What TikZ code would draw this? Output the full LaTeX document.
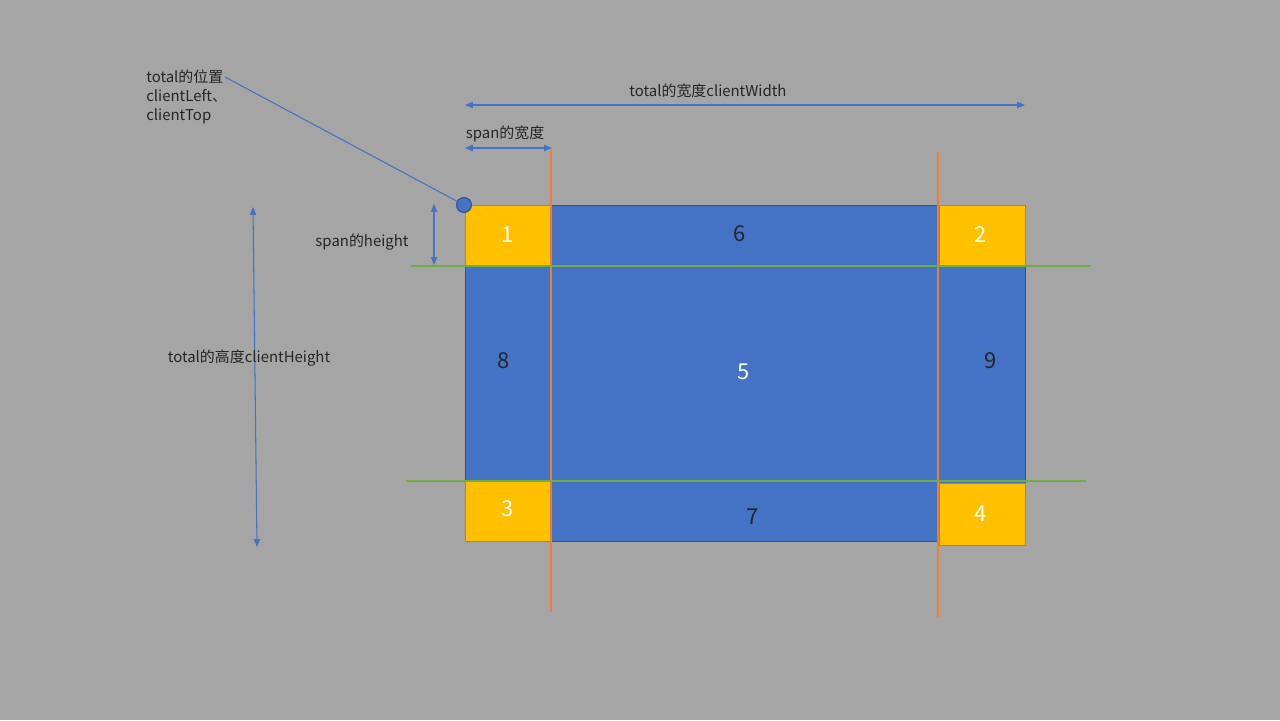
\documentclass[tikz,border=0pt]{standalone}
\usepackage{fontspec}
\setmainfont{Noto Sans CJK SC}
\usepackage{tikz}
\usetikzlibrary{arrows.meta}
\definecolor{bg}{HTML}{A5A5A5}
\definecolor{cblue}{HTML}{4472C4}
\definecolor{cblueedge}{HTML}{2F528F}
\definecolor{cyellow}{HTML}{FFC000}
\definecolor{cyellowedge}{HTML}{BC8C00}
\definecolor{corange}{HTML}{ED7D31}
\definecolor{cgreen}{HTML}{70AD47}
\begin{document}
\begin{tikzpicture}[x=0.02cm, y=-0.02cm,
  every node/.style={font=\fontsize{8.5pt}{10pt}\selectfont, text=black!85},
  dim/.style={cblue, line width=0.6pt, {Triangle[length=4.5pt,width=3.6pt]}-{Triangle[length=4.5pt,width=3.6pt]}},
  corner/.style={fill=cyellow, draw=cyellowedge, line width=0.5pt},
  bignum/.style={font=\fontsize{12.5pt}{14pt}\selectfont},
  guideV/.style={corange, line width=0.9pt},
  guideH/.style={cgreen, line width=0.9pt}]
  \fill[bg] (0,0) rectangle (1280,720);
  \useasboundingbox (0,0) rectangle (1280,720);

  % the whole client area
  \filldraw[fill=cblue, draw=cblueedge, line width=0.5pt] (465,205) rectangle (1025,541);
  % the four corner spans
  \filldraw[corner] (465,205) rectangle (551,265);
  \filldraw[corner] (939,205) rectangle (1025,265);
  \filldraw[corner] (465,481) rectangle (551,541);
  \filldraw[corner] (939,483) rectangle (1025,545);

  % guide lines
  \draw[guideV] (551,150) -- (551,612);
  \draw[guideV] (938,152) -- (938,617);
  \draw[guideH] (411,266) -- (1091,266);
  \draw[guideH] (406,481) -- (1086,481);

  % region numbers
  \node[bignum, text=white] (n1) at (508,235) {1};
  \node[bignum, text=white] (n2) at (981,235) {2};
  \node[bignum, text=white] (n3) at (508,509) {3};
  \node[bignum, text=white] (n4) at (981,514) {4};
  \node[bignum, text=white] (n5) at (744,372) {5};
  \node[bignum] (n6) at (740,234) {6};
  \node[bignum] (n7) at (753,517) {7};
  \node[bignum] (n8) at (504,361) {8};
  \node[bignum] (n9) at (991,361) {9};

  % position marker
  \node[circle, fill=cblue, draw=cblueedge, line width=0.6pt, minimum size=0.3cm, inner sep=0pt] (origin) at (464,205) {};
  \node[align=left, anchor=north west, inner sep=0pt, font=\fontsize{8.5pt}{11pt}\selectfont] (poslabel) at (146,69) {total的位置\\clientLeft、\\clientTop};
  \coordinate (posend) at (225,77);
  \draw[cblue, line width=0.6pt] (posend) -- (origin);

  % dimensions
  \coordinate (wL) at (465,105);
  \coordinate (wR) at (1025,105);
  \draw[dim] (wL) -- (wR);
  \node (wlabel) at (708,91) {total的宽度clientWidth};

  \coordinate (swL) at (465,148);
  \coordinate (swR) at (552,148);
  \draw[dim] (swL) -- (swR);
  \node (swlabel) at (505,134) {span的宽度};

  \coordinate (shT) at (434,204);
  \coordinate (shB) at (434,265);
  \draw[dim] (shT) -- (shB);
  \node (shlabel) at (362,242) {span的height};

  \coordinate (hT) at (253,207);
  \coordinate (hB) at (257,547);
  \draw[dim] (hT) -- (hB);
  \node (hlabel) at (249,358) {total的高度clientHeight};
\end{tikzpicture}
\end{document}
